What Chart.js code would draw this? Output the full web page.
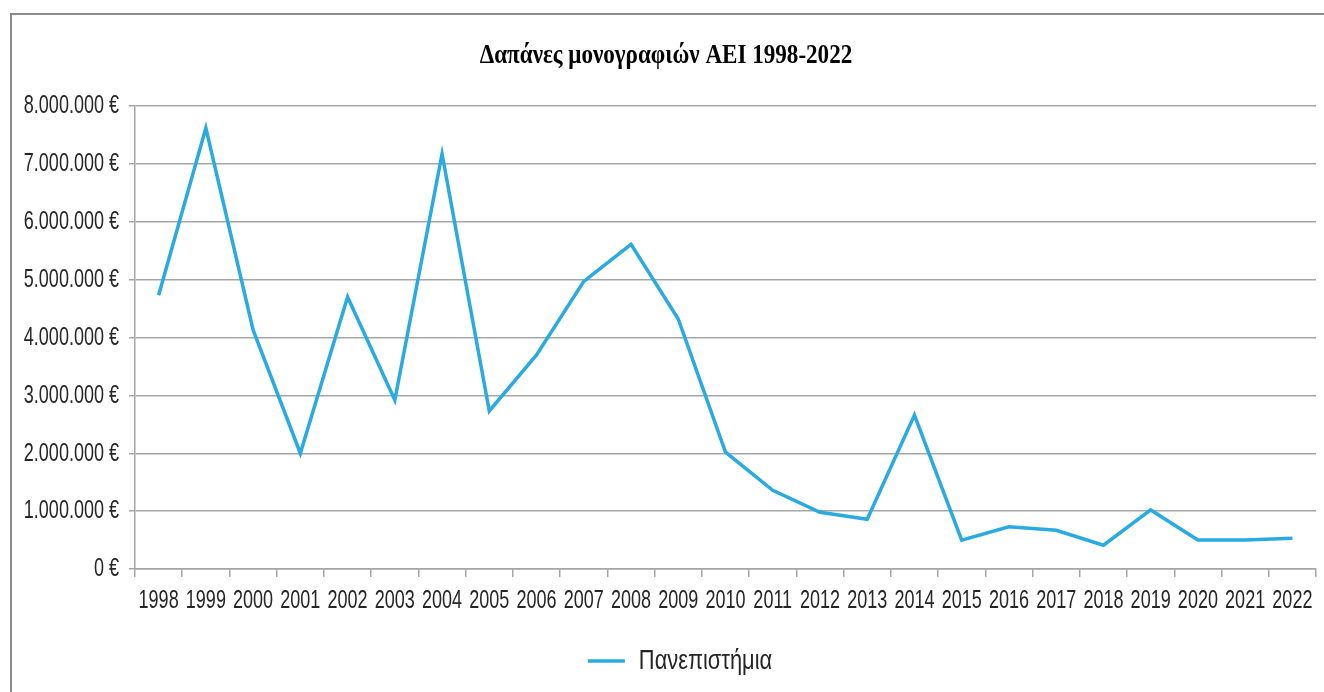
<!DOCTYPE html>
<html>
<head>
<meta charset="utf-8">
<script src="https://cdn.jsdelivr.net/npm/chart.js@4.4.0/dist/chart.umd.min.js"></script>
<style>
  html, body { margin: 0; padding: 0; background: #fff; }
  #wrap { position: relative; width: 1324px; height: 692px; overflow: hidden; }
  #frame { position: absolute; left: 10px; top: 13px; width: 1400px; height: 800px;
           border-top: 2px solid #8c8c8c; border-left: 2px solid #8c8c8c; }
  #chart { position: absolute; left: 0; top: 0; }
</style>
</head>
<body>
<div id="wrap">
  <div id="frame"></div>
  <canvas id="chart" width="1324" height="692"></canvas>
</div>
<script>
// Données du graphique
const annees = ['1998', '1999', '2000', '2001', '2002', '2003', '2004', '2005', '2006', '2007',
    '2008', '2009', '2010', '2011', '2012', '2013', '2014', '2015', '2016', '2017',
    '2018', '2019', '2020', '2021', '2022'];
const depenses = [4730000, 7620000, 4130000, 2000000, 4700000, 2920000, 7170000, 2730000, 3700000, 4970000,
    5610000, 4320000, 2020000, 1360000, 980000, 860000, 2660000, 500000, 730000, 670000,
    410000, 1020000, 500000, 500000, 530000];
const titre = 'Δαπάνες μονογραφιών ΑΕΙ 1998-2022';
const serie = 'Πανεπιστήμια';

const sans = '"Liberation Sans", sans-serif';
const sansLegende = 'Arial, "Liberation Sans", sans-serif';
const gris = '#a6a6a6';

// format 8.000.000 €
function euros(v) {
    return String(Math.round(v)).replace(/\B(?=(\d{3})+(?!\d))/g, '.') + ' €';
}

const ctx = document.getElementById('chart').getContext('2d');

// texte condensé (police étroite comme l'original)
function serrage(font) {
    if (/Serif/.test(font)) return 0.855;
    if (/Arial/.test(font)) return 0.78;
    return 0.68;
}
const fillOrig = ctx.fillText;
const measureOrig = ctx.measureText;
ctx.fillText = function (t, x, y) {
    const k = serrage(this.font);
    this.save();
    this.translate(x, y);
    this.scale(k, 1);
    fillOrig.call(this, t, 0, 0);
    this.restore();
};
ctx.measureText = function (t) {
    const m = measureOrig.call(this, t);
    const k = serrage(this.font);
    return {
        width: m.width * k,
        actualBoundingBoxAscent: m.actualBoundingBoxAscent,
        actualBoundingBoxDescent: m.actualBoundingBoxDescent,
        actualBoundingBoxLeft: m.actualBoundingBoxLeft * k,
        actualBoundingBoxRight: m.actualBoundingBoxRight * k,
    };
};

// décaler un peu la légende vers la droite
const decaleLegende = {
    id: 'decaleLegende',
    afterLayout(chart) {
        chart.legend.left += 14;
        chart.legend.right += 14;
    },
};

new Chart(ctx, {
    type: 'line',
    data: {
        labels: annees,
        datasets: [{
            label: serie,
            data: depenses,
            borderColor: '#29abe2',
            backgroundColor: '#29abe2',
            borderWidth: 3.5,
            pointRadius: 0,
            tension: 0,
        }],
    },
    plugins: [decaleLegende],
    options: {
        responsive: false,
        animation: false,
        layout: { padding: { left: 16, right: 8, top: 0, bottom: 7 } },
        plugins: {
            title: {
                display: true,
                text: titre,
                color: '#000',
                font: { family: '"Liberation Serif", serif', size: 27, weight: 'bold', lineHeight: 1.2 },
                padding: { top: 40, bottom: 33.6 },
            },
            legend: {
                position: 'bottom',
                labels: {
                    usePointStyle: true,
                    pointStyle: 'line',
                    pointStyleWidth: 37,
                    boxWidth: 37,
                    boxHeight: 3,
                    color: '#262626',
                    font: { family: sansLegende, size: 28 },
                    padding: 10,
                },
            },
            tooltip: { enabled: false },
        },
        scales: {
            x: {
                offset: true,
                grid: { offset: true, drawOnChartArea: false, drawTicks: true, tickLength: 8, color: gris, lineWidth: 1.5 },
                border: { display: true, color: gris, width: 1.5 },
                ticks: { color: '#262626', font: { family: sans, size: 26.5 }, padding: 8, maxRotation: 0, autoSkip: false },
                afterFit: scale => { scale.height = 68; },
            },
            y: {
                min: 0,
                max: 8000000,
                grid: { color: gris, lineWidth: 1.5, tickLength: 6 },
                border: { display: true, color: gris, width: 1.5 },
                ticks: {
                    stepSize: 1000000,
                    color: '#262626',
                    font: { family: sans, size: 26.5 },
                    padding: 10,
                    callback: v => euros(v),
                },
                afterFit: scale => { scale.width = 119; },
            },
        },
    },
});
</script>
</body>
</html>
